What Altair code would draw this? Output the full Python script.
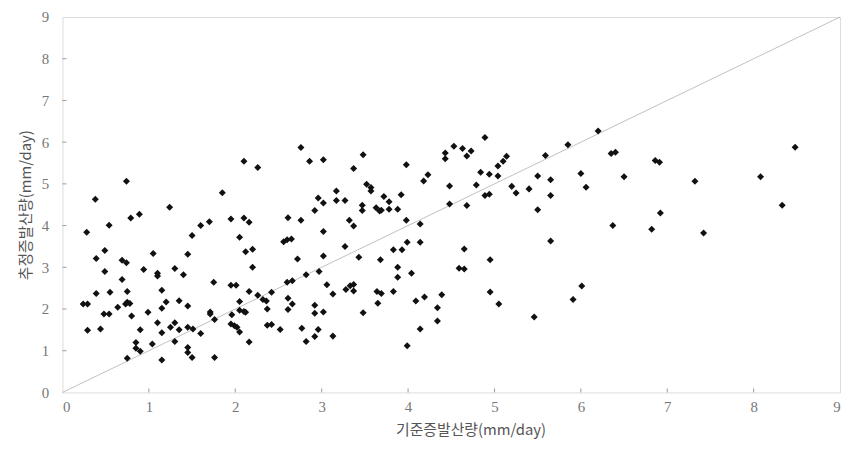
import altair as alt
import pandas as pd

# Reference ET (x) and estimated ET (y), mm/day
ref_et = [
    2.10, 0.74, 0.38, 1.85, 1.24, 0.89, 0.79, 0.54, 0.28, 1.70, 1.60, 1.95, 2.10, 2.16, 1.50, 2.05,
    0.49, 0.39, 1.05, 0.69, 0.74, 1.45, 2.12, 2.20, 0.94, 1.30, 0.49, 1.10, 1.10, 1.40, 2.20, 0.69,
    1.75, 1.95, 2.01, 0.39, 0.55, 0.75, 1.15, 2.16, 0.24, 0.29, 0.64, 0.75, 0.78, 0.73, 0.80, 1.20,
    1.35, 1.45, 1.15, 2.05, 1.71, 1.71, 0.48, 0.54, 0.99, 2.05, 2.10, 2.12, 1.96, 1.10, 1.30, 1.25,
    1.76, 1.45, 1.51, 1.95, 1.99, 2.02, 0.29, 0.44, 0.90, 1.15, 1.35, 1.60, 2.05, 0.85, 0.85, 0.90,
    1.04, 1.30, 1.45, 1.45, 1.50, 0.75, 1.15, 1.76, 2.16,
    2.76, 3.48, 2.86, 3.02, 2.26, 3.37, 3.98, 4.23, 4.18, 3.52, 3.57, 3.57, 3.17, 2.96, 3.02, 3.17,
    3.27, 3.72, 3.78, 3.92, 2.92, 3.47, 3.47, 3.63, 3.67, 3.69, 3.78, 3.88, 2.61, 2.76, 3.32, 3.37,
    3.98, 4.14, 3.02, 2.56, 2.60, 2.65, 3.27, 3.83, 3.93, 3.99, 4.14, 2.72, 3.02, 3.43, 3.68, 2.82,
    2.97, 3.88, 3.88, 4.04, 2.60, 2.66, 3.06, 3.28, 3.33, 3.37, 3.37, 3.64, 3.69, 3.83, 2.26, 2.32,
    2.36, 2.42, 3.13, 2.61, 2.66, 2.61, 2.37, 2.92, 2.92, 3.02, 3.48, 3.65, 4.09, 4.19, 4.39, 4.34,
    4.34, 4.14, 2.37, 2.42, 2.52, 2.77, 2.96, 2.92, 2.82, 3.13, 3.99,
    4.89, 4.53, 4.63, 4.43, 4.43, 4.68, 4.73, 6.20, 5.85, 5.59, 5.14, 5.10, 5.04, 6.35, 6.40, 4.84,
    4.94, 5.04, 5.50, 6.00, 5.65, 6.50, 4.48, 4.79, 5.20, 5.25, 5.40, 6.06, 4.89, 4.94, 5.65, 4.48,
    4.68, 5.50, 6.37, 5.65, 4.65, 4.59, 4.65, 4.95, 4.95, 5.05, 6.01, 5.91, 5.46,
    8.48, 6.86, 6.91, 7.32, 8.08, 6.92, 6.82, 7.42, 8.33,
]
est_et = [
    5.54, 5.06, 4.63, 4.79, 4.44, 4.27, 4.18, 4.01, 3.84, 4.09, 4.00, 4.16, 4.18, 4.08, 3.76, 3.72,
    3.40, 3.21, 3.33, 3.17, 3.11, 3.31, 3.37, 3.43, 2.95, 2.97, 2.90, 2.86, 2.79, 2.82, 3.00, 2.71,
    2.64, 2.57, 2.57, 2.37, 2.40, 2.42, 2.45, 2.42, 2.12, 2.12, 2.04, 2.16, 2.13, 2.12, 1.83, 2.17,
    2.20, 2.07, 2.02, 2.18, 1.93, 1.88, 1.88, 1.88, 1.92, 1.97, 1.94, 1.92, 1.86, 1.67, 1.67, 1.56,
    1.75, 1.56, 1.52, 1.64, 1.60, 1.56, 1.49, 1.52, 1.50, 1.43, 1.50, 1.41, 1.45, 1.20, 1.06, 0.99,
    1.16, 1.22, 1.08, 0.96, 0.84, 0.82, 0.78, 0.84, 1.21,
    5.87, 5.70, 5.54, 5.58, 5.39, 5.37, 5.46, 5.22, 5.07, 4.99, 4.91, 4.83, 4.83, 4.66, 4.54, 4.60,
    4.60, 4.70, 4.57, 4.74, 4.36, 4.49, 4.36, 4.43, 4.35, 4.37, 4.39, 4.39, 4.19, 4.13, 4.13, 3.99,
    4.13, 4.04, 3.86, 3.61, 3.66, 3.68, 3.50, 3.42, 3.42, 3.60, 3.60, 3.20, 3.27, 3.24, 3.18, 2.82,
    2.90, 3.00, 2.76, 2.86, 2.64, 2.68, 2.58, 2.47, 2.56, 2.59, 2.43, 2.42, 2.37, 2.42, 2.33, 2.23,
    2.19, 2.40, 2.36, 2.26, 2.12, 1.99, 2.00, 2.09, 1.90, 1.93, 1.91, 2.14, 2.19, 2.29, 2.34, 2.03,
    1.71, 1.52, 1.61, 1.63, 1.51, 1.54, 1.51, 1.34, 1.22, 1.35, 1.12,
    6.11, 5.90, 5.85, 5.74, 5.60, 5.67, 5.79, 6.27, 5.94, 5.68, 5.66, 5.54, 5.43, 5.73, 5.76, 5.28,
    5.23, 5.19, 5.19, 5.25, 5.10, 5.17, 4.95, 4.97, 4.94, 4.78, 4.88, 4.92, 4.72, 4.75, 4.72, 4.52,
    4.48, 4.38, 4.00, 3.63, 3.44, 2.98, 2.96, 3.18, 2.41, 2.12, 2.55, 2.23, 1.81,
    5.88, 5.56, 5.52, 5.06, 5.17, 4.30, 3.91, 3.82, 4.49,
]
line_x = [0, 9]
line_y = [0, 9]
tick_vals = [1, 2, 3, 4, 5, 6, 7, 8]
axis_vals = [0, 1, 2, 3, 4, 5, 6, 7, 8, 9]

W, H = 785, 379

pts = pd.DataFrame({"x": ref_et, "y": est_et})
diag = pd.DataFrame({"x": line_x, "y": line_y})
ticks = pd.DataFrame({"v": tick_vals})

xs = alt.Scale(domain=[0, 9], nice=False, zero=False)
ys = alt.Scale(domain=[0, 9], nice=False, zero=False)

lab = dict(labelFont="Liberation Serif", labelFontSize=15, labelColor="#777777",
           titleFont="Noto Sans CJK KR", titleFontSize=15, titleColor="#555555",
           titleFontWeight="normal", grid=False, domain=False, ticks=False, tickSize=0,
           values=axis_vals, format="d")

x_axis = alt.Axis(title="기준증발산량(mm/day)", labelPadding=7, titlePadding=8, titleX=412, **lab)
y_axis = alt.Axis(title="추정증발산량(mm/day)", labelPadding=14, titlePadding=8, **lab)

base_x = alt.X("x:Q", scale=xs, axis=x_axis)
base_y = alt.Y("y:Q", scale=ys, axis=y_axis)

line = alt.Chart(diag).mark_line(color="#b0b0b0", strokeWidth=0.8).encode(x=base_x, y=base_y)

points = alt.Chart(pts).mark_point(shape="diamond", filled=True, size=50, color="#111111",
                                   opacity=1).encode(
    x=alt.X("x:Q", scale=xs), y=alt.Y("y:Q", scale=ys))

xticks = alt.Chart(ticks).mark_rule(color="#999999", strokeWidth=1).encode(
    x=alt.X("v:Q", scale=xs), y=alt.value(H), y2=alt.value(H - 4))
yticks = alt.Chart(ticks).mark_rule(color="#999999", strokeWidth=1).encode(
    y=alt.Y("v:Q", scale=ys), x=alt.value(0), x2=alt.value(4))

chart = alt.layer(line, xticks, yticks, points).properties(
    width=W, height=H,
    autosize=alt.AutoSizeParams(type="none"),
    padding={"left": 55, "top": 7, "right": 7, "bottom": 55},
).configure_view(stroke="#999999", strokeWidth=1).configure(background="white")

chart.save("out.html", embed_options={"renderer": "svg", "actions": False})
